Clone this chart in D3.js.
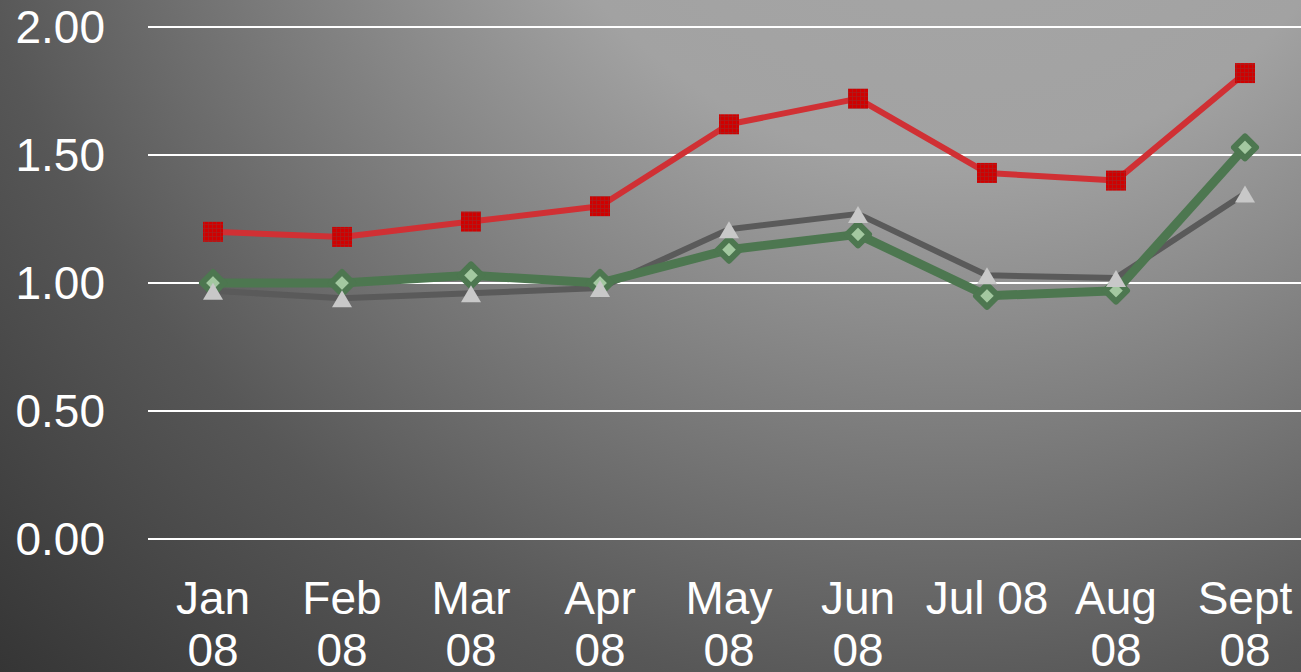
<!DOCTYPE html>
<html>
<head>
<meta charset="utf-8">
<script src="https://cdn.jsdelivr.net/npm/d3@7"></script>
<style>
  html, body { margin: 0; padding: 0; overflow: hidden; background: #333; }
  svg { display: block; font-family: "Liberation Sans", Arial, sans-serif; }
</style>
</head>
<body>
<svg id="chart" width="1301" height="672"></svg>
<script>
const months = ["Jan 08", "Feb 08", "Mar 08", "Apr 08", "May 08", "Jun 08", "Jul 08", "Aug 08", "Sept 08"];
const redValues = [1.20, 1.18, 1.24, 1.30, 1.62, 1.72, 1.43, 1.40, 1.82];
const greyValues = [0.97, 0.94, 0.96, 0.98, 1.21, 1.27, 1.03, 1.02, 1.35];
const greenValues = [1.00, 1.00, 1.03, 1.00, 1.13, 1.19, 0.95, 0.97, 1.53];
const yTicks = [0, 0.5, 1, 1.5, 2];

const width = 1301;
const height = 672;
const svg = d3.select("#chart");
const defs = svg.append("defs");

// background: light along the top right, dark bottom-left
const bg = defs.append("radialGradient")
  .attr("id", "bg")
  .attr("gradientUnits", "userSpaceOnUse")
  .attr("cx", 950).attr("cy", -300).attr("r", 1360);
bg.append("stop").attr("offset", "0").attr("stop-color", "#a8a8a8");
bg.append("stop").attr("offset", "0.34").attr("stop-color", "#a2a2a2");
bg.append("stop").attr("offset", "0.74").attr("stop-color", "#575757");
bg.append("stop").attr("offset", "1").attr("stop-color", "#353535");
svg.append("rect").attr("width", width).attr("height", height).attr("fill", "url(#bg)");

// textured fill for the red squares
const pat = defs.append("pattern")
  .attr("id", "redTex")
  .attr("patternUnits", "userSpaceOnUse")
  .attr("width", 4).attr("height", 4);
pat.append("rect").attr("width", 4).attr("height", 4).attr("fill", "#d00000");
pat.append("path").attr("d", "M0,0.5H4M0.5,0V4").attr("stroke", "#a82020").attr("stroke-width", 0.7);

const x = d3.scaleBand().domain(months).range([148.5, 1309.5]);
const y = d3.scaleLinear().domain([0, 2]).range([539, 27]);
const cx = d => x(d) + x.bandwidth() / 2;

// gridlines
svg.append("g")
  .selectAll("line")
  .data(yTicks)
  .enter().append("line")
  .attr("x1", 148).attr("x2", width)
  .attr("y1", d => y(d)).attr("y2", d => y(d))
  .attr("stroke", "#ffffff")
  .attr("stroke-width", 2);

// y labels
svg.append("g")
  .selectAll("text")
  .data(yTicks)
  .enter().append("text")
  .attr("x", 105)
  .attr("y", d => y(d))
  .attr("dy", "0.35em")
  .attr("text-anchor", "end")
  .attr("font-size", 46)
  .attr("fill", "#ffffff")
  .text(d => d.toFixed(2));

// x labels, wrapped when wider than a band
const xLab = svg.append("g")
  .selectAll("text")
  .data(months)
  .enter().append("text")
  .attr("x", d => cx(d))
  .attr("y", 614)
  .attr("text-anchor", "middle")
  .attr("font-size", 46)
  .attr("fill", "#ffffff")
  .text(d => d);

xLab.each(function(d) {
  const t = d3.select(this);
  if (this.getComputedTextLength() > x.bandwidth()) {
    const words = d.split(" ");
    t.text(null);
    words.forEach((w, i) => {
      t.append("tspan")
        .attr("x", cx(d))
        .attr("dy", i === 0 ? 0 : 52)
        .text(w);
    });
  }
});

const line = d3.line()
  .x((d, i) => cx(months[i]))
  .y(d => y(d));

// grey series
svg.append("path")
  .datum(greyValues)
  .attr("d", line)
  .attr("fill", "none")
  .attr("stroke", "#5a5a5a")
  .attr("stroke-width", 6)
  .attr("stroke-linejoin", "round");

// green series
svg.append("path")
  .datum(greenValues)
  .attr("d", line)
  .attr("fill", "none")
  .attr("stroke", "#4d7750")
  .attr("stroke-width", 9)
  .attr("stroke-linejoin", "round");

svg.append("g")
  .selectAll("path")
  .data(greenValues)
  .enter().append("path")
  .attr("transform", (d, i) => `translate(${cx(months[i])},${y(d)})`)
  .attr("d", "M0,-11L11,0L0,11L-11,0Z")
  .attr("fill", "#a3c8a0")
  .attr("stroke", "#4d7750")
  .attr("stroke-width", 6)
  .attr("stroke-linejoin", "round");

svg.append("g")
  .selectAll("path")
  .data(greyValues)
  .enter().append("path")
  .attr("transform", (d, i) => `translate(${cx(months[i])},${y(d) + 1})`)
  .attr("d", "M0,-9L10,8L-10,8Z")
  .attr("fill", "#c8c8c8");

// red series
svg.append("path")
  .datum(redValues)
  .attr("d", line)
  .attr("fill", "none")
  .attr("stroke", "#d03034")
  .attr("stroke-width", 6)
  .attr("stroke-linejoin", "round");

svg.append("g")
  .selectAll("rect")
  .data(redValues)
  .enter().append("rect")
  .attr("x", (d, i) => cx(months[i]) - 10)
  .attr("y", d => y(d) - 10)
  .attr("width", 20)
  .attr("height", 20)
  .attr("fill", "url(#redTex)");
</script>
</body>
</html>
